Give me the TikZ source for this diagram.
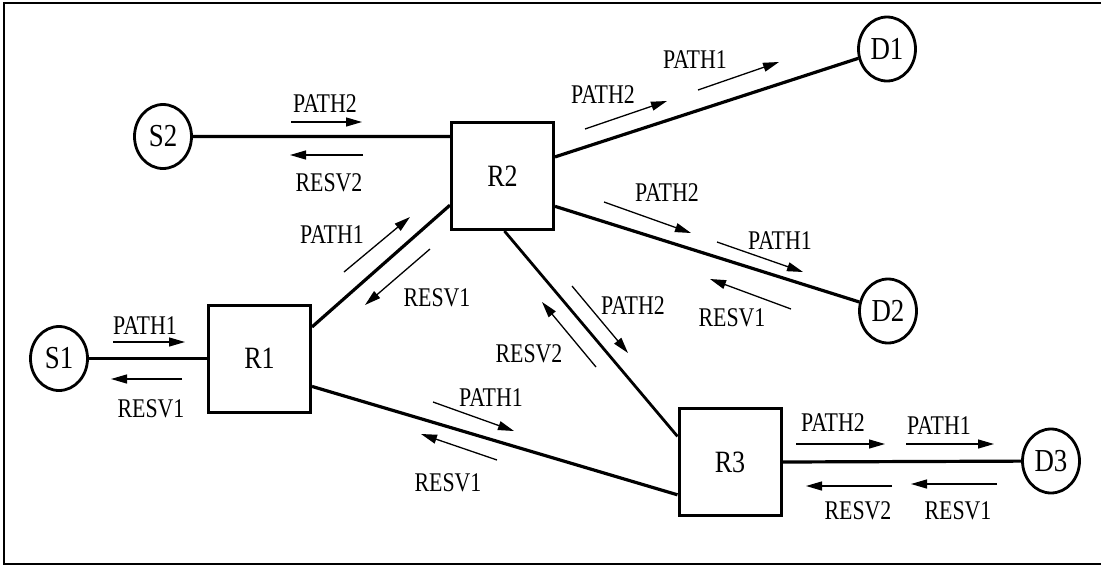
\documentclass[tikz,border=0pt]{standalone}
\usepackage{fontspec}
\usepackage{graphicx}
\setmainfont{Liberation Serif}
\newcommand\nar[1]{\scalebox{0.84}[1]{#1}}
\newcommand\narl[1]{\scalebox{0.81}[1]{#1}}
\usetikzlibrary{arrows.meta,shapes.geometric}
\begin{document}
\begin{tikzpicture}[x=1pt,y=-1pt,
  term/.style={draw,ellipse,line width=2.8pt,minimum width=57pt,minimum height=64pt,inner sep=0pt,font=\fontsize{32}{32}\selectfont},
  router/.style={draw,rectangle,line width=3pt,minimum width=102pt,minimum height=107pt,inner sep=0pt,font=\fontsize{31}{31}\selectfont},
  link/.style={line width=3.2pt},
  sig/.style={line width=1.3pt,-{Triangle[length=16pt,width=9pt]}},
  lbl/.style={font=\fontsize{27}{27}\selectfont,inner sep=0pt}]
\useasboundingbox (0,0) rectangle (1101,566);
\draw[line width=1.5pt] (1103,3) -- (4,3) -- (4,564) -- (1103,564);
% nodes
\node[term] (S1) at (59,358.5) {\nar{S1}};
\node[term] (S2) at (163,136.5) {\nar{S2}};
\node[term] (D1) at (887,49) {\nar{D1}};
\node[term] (D2) at (888,311) {\nar{D2}};
\node[term] (D3) at (1051,461) {\nar{D3}};
\node[router] (R1) at (259.5,358.5) {\nar{R1}};
\node[router] (R2) at (502.5,176) {\nar{R2}};
\node[router] (R3) at (730,462) {\nar{R3}};
% links
\draw[link] (S1) -- (R1);
\draw[link] (S2) -- (R2.143);
\draw[link] (R1.31) -- (R2.209);
\draw[link] (R1.-28) -- (R3.212);
\draw[line width=2.8pt] (R2.-88) -- (R3.154);
\draw[link] (R2.20) -- (D1);
\draw[link] (R2.-30) -- (D2);
\draw[link] (R3.east) -- (D3);
% S2 - R2
\coordinate (a1s) at (291,122); \coordinate (a1e) at (362,122);
\draw[sig] (a1s) -- (a1e); \node[lbl] (t1) at (325,104) {\narl{PATH2}};
\coordinate (a2s) at (363,155); \coordinate (a2e) at (290,155);
\draw[sig] (a2s) -- (a2e); \node[lbl] (t2) at (329,183) {\narl{RESV2}};
% S1 - R1
\coordinate (a3s) at (113,342); \coordinate (a3e) at (185,342);
\draw[sig] (a3s) -- (a3e); \node[lbl] (t3) at (145,326) {\narl{PATH1}};
\coordinate (a4s) at (182,379); \coordinate (a4e) at (111,379);
\draw[sig] (a4s) -- (a4e); \node[lbl] (t4) at (151,409) {\narl{RESV1}};
% R1 - R2
\coordinate (a5s) at (344,272); \coordinate (a5e) at (410,217);
\draw[sig] (a5s) -- (a5e); \node[lbl] (t5) at (332,235) {\narl{PATH1}};
\coordinate (a6s) at (430,249); \coordinate (a6e) at (365,305);
\draw[sig] (a6s) -- (a6e); \node[lbl] (t6) at (437,298) {\narl{RESV1}};
% R1 - R3
\coordinate (a7s) at (433,402); \coordinate (a7e) at (514,431);
\draw[sig] (a7s) -- (a7e); \node[lbl] (t7) at (491,398) {\narl{PATH1}};
\coordinate (a8s) at (497,460); \coordinate (a8e) at (421,434);
\draw[sig] (a8s) -- (a8e); \node[lbl] (t8) at (448,483) {\narl{RESV1}};
% R2 - R3
\coordinate (a9s) at (572,286); \coordinate (a9e) at (628,353);
\draw[sig] (a9s) -- (a9e); \node[lbl] (t9) at (633,306) {\narl{PATH2}};
\coordinate (a10s) at (596,367); \coordinate (a10e) at (542,302);
\draw[sig] (a10s) -- (a10e); \node[lbl] (t10) at (529,354) {\narl{RESV2}};
% R2 - D1
\coordinate (a11s) at (585,129); \coordinate (a11e) at (667,101);
\draw[sig] (a11s) -- (a11e); \node[lbl] (t11) at (603,95) {\narl{PATH2}};
\coordinate (a12s) at (698,90); \coordinate (a12e) at (779,62);
\draw[sig] (a12s) -- (a12e); \node[lbl] (t12) at (695,60) {\narl{PATH1}};
% R2 - D2
\coordinate (a13s) at (604,202); \coordinate (a13e) at (691,233);
\draw[sig] (a13s) -- (a13e); \node[lbl] (t13) at (667,193) {\narl{PATH2}};
\coordinate (a14s) at (717,242); \coordinate (a14e) at (803,272);
\draw[sig] (a14s) -- (a14e); \node[lbl] (t14) at (780,241) {\narl{PATH1}};
\coordinate (a15s) at (791,309); \coordinate (a15e) at (710,279);
\draw[sig] (a15s) -- (a15e); \node[lbl] (t15) at (732,318) {\narl{RESV1}};
% R3 - D3
\coordinate (a16s) at (796,444); \coordinate (a16e) at (885,444);
\draw[sig] (a16s) -- (a16e); \node[lbl] (t16) at (833,423) {\narl{PATH2}};
\coordinate (a17s) at (906,444); \coordinate (a17e) at (994,444);
\draw[sig] (a17s) -- (a17e); \node[lbl] (t17) at (939,426) {\narl{PATH1}};
\coordinate (a18s) at (892,486); \coordinate (a18e) at (806,486);
\draw[sig] (a18s) -- (a18e); \node[lbl] (t18) at (858,511) {\narl{RESV2}};
\coordinate (a19s) at (997,484); \coordinate (a19e) at (911,484);
\draw[sig] (a19s) -- (a19e); \node[lbl] (t19) at (958,511) {\narl{RESV1}};
\end{tikzpicture}
\end{document}
